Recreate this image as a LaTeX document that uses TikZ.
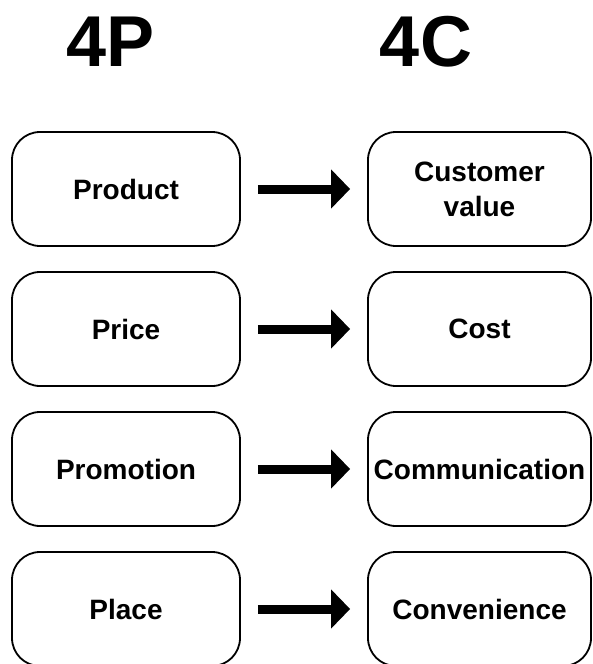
\documentclass[tikz,border=0pt]{standalone}
\usepackage{fontspec}
\setmainfont{Liberation Sans}
\usetikzlibrary{positioning,arrows.meta}

\tikzset{
	pbox/.style={draw,line width=1.8pt,rounded corners=28pt,minimum width=228pt,minimum height=114pt,align=center,font=\fontsize{28}{35}\selectfont\bfseries},
	cbox/.style={pbox,minimum width=223pt},
	bigarrow/.style={-{Triangle[width=38pt,length=19pt]},line width=9pt,shorten <=17pt,shorten >=17pt},
	head/.style={font=\fontsize{72}{72}\selectfont\bfseries}
}

\begin{document}
\begin{tikzpicture}[x=1pt,y=1pt]
\useasboundingbox (0,0) rectangle (592,-664);

\node[head](4p) at (111,-42) {4P};
\node[head](4c) at (426,-42) {4C};

\foreach \i/\y/\pn/\cn in {1/-189/Product/{Customer\\value},2/-329/Price/Cost,3/-469/Promotion/Communication,4/-609/Place/Convenience}{
	\node[pbox](p\i) at (126,\y) {\pn};
	\node[cbox](c\i) at (479.5,\y) {\cn};
	\draw[bigarrow](p\i)--(c\i);
}

\end{tikzpicture}
\end{document}
